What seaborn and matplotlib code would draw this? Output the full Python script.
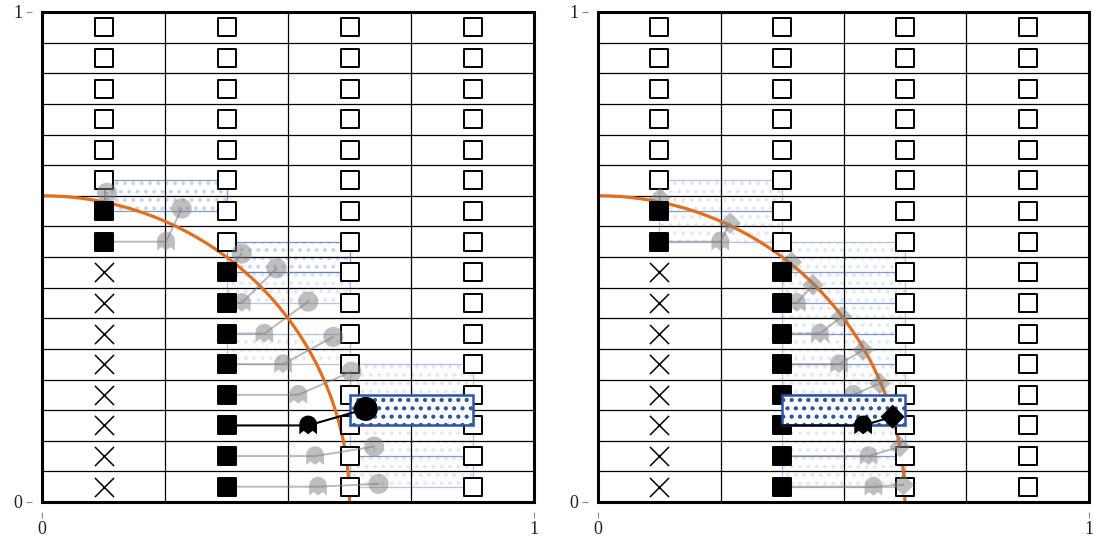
import numpy as np
import pandas as pd
import matplotlib
matplotlib.use('Agg')
import matplotlib.pyplot as plt
from matplotlib.path import Path
from matplotlib.patches import Rectangle
import seaborn as sns

n_rows = 16
col_x = [0.125, 0.375, 0.625, 0.875]
# column states from the bottom row up: x = crossed, f = filled, o = open
col_states = [
    'x' * 8 + 'f' * 2 + 'o' * 6,
    'f' * 8 + 'o' * 8,
    'o' * 16,
    'o' * 16,
]

moved_rows = [9, 8, 7, 6, 5, 4, 3, 2, 1, 0]
highlight_row = 2
radius = 0.625

left_ghost_x = [0.125, 0.252, 0.375, 0.406, 0.452, 0.490, 0.521, 0.541, 0.555, 0.561]
left_next_x = [0.132, 0.284, 0.406, 0.477, 0.541, 0.592, 0.629, 0.658, 0.675, 0.684]
left_next_y = [0.631, 0.599, 0.507, 0.477, 0.409, 0.337, 0.266, 0.190, 0.113, 0.037]

right_ghost_x = [0.125, 0.249, 0.375, 0.405, 0.452, 0.491, 0.520, 0.540, 0.551, 0.561]
right_next_x = [0.126, 0.269, 0.394, 0.438, 0.496, 0.540, 0.574, 0.600, 0.615, 0.622]
right_next_y = [0.620, 0.569, 0.490, 0.443, 0.378, 0.310, 0.242, 0.174, 0.113, 0.035]

sns.set_style('white')
plt.rcParams['font.family'] = ['Liberation Serif', 'DejaVu Serif']
plt.rcParams['hatch.linewidth'] = 1.8

# ghost shaped marker
theta = np.linspace(0, np.pi, 30)
dome = np.column_stack([0.9 * np.cos(theta), 0.1 + 0.9 * np.sin(theta)])
feet = np.array([[-0.9, -0.9], [-0.45, -0.55], [0.0, -0.9], [0.45, -0.55], [0.9, -0.9], [0.9, 0.1]])
ghost_verts = np.vstack([dome, feet, dome[:1]])
ghost = Path(ghost_verts, closed=True)

BLUE = '#2b55a3'
ORANGE = '#e36f1e'


def row_y(r):
    return (r + 0.5) / n_rows


def draw_panel(ax, ghost_x, next_x, next_y, next_marker, next_s, hi_s):
    ax.set_xlim(0, 1)
    ax.set_ylim(0, 1)

    for k in range(1, n_rows):
        ax.axhline(k / n_rows, color='black', lw=0.9, zorder=1)
    for k in range(1, 4):
        ax.axvline(k / 4, color='black', lw=0.9, zorder=1)

    # grid of squares / crosses
    recs = []
    for c, states in enumerate(col_states):
        for r, s in enumerate(states):
            recs.append({'x': col_x[c], 'y': row_y(r), 'state': s})
    grid = pd.DataFrame(recs)
    sns.scatterplot(data=grid[grid.state == 'o'], x='x', y='y', marker='s', s=150,
                    color='white', edgecolor='black', linewidth=1.4, ax=ax, zorder=4)
    sns.scatterplot(data=grid[grid.state == 'f'], x='x', y='y', marker='s', s=150,
                    color='black', edgecolor='black', linewidth=1.4, ax=ax, zorder=6)
    sns.scatterplot(data=grid[grid.state == 'x'], x='x', y='y', marker='x', s=190,
                    color='black', linewidth=1.1, ax=ax, zorder=4)

    # start column of each moved row = the filled square in that row
    start_x = [col_x[[st[r] for st in col_states].index('f')] for r in moved_rows]

    moves = pd.DataFrame({'row': moved_rows, 'start_x': start_x, 'ghost_x': ghost_x,
                          'next_x': next_x, 'next_y': next_y})
    moves['y'] = row_y(moves['row'])

    # cells containing the next points
    for _, m in moves.iterrows():
        i = int(np.floor((m.next_x - col_x[0]) / 0.25))
        j = int(np.floor((m.next_y - row_y(0)) * n_rows))
        x0, y0 = col_x[i], row_y(j)
        if m.row == highlight_row:
            ax.add_patch(Rectangle((x0, y0), 0.25, 1 / n_rows, facecolor='white',
                                   edgecolor=BLUE, hatch='..', lw=1.8, zorder=6.5))
        else:
            ax.add_patch(Rectangle((x0, y0), 0.25, 1 / n_rows, facecolor='none',
                                   edgecolor=BLUE, lw=0.9, alpha=0.35, zorder=2))
            ax.add_patch(Rectangle((x0, y0), 0.25, 1 / n_rows, facecolor='none',
                                   edgecolor=BLUE, hatch='..', lw=0, alpha=0.1, zorder=2))

    # orange circle
    t = np.linspace(0, np.pi / 2, 200)
    sns.lineplot(x=radius * np.cos(t), y=radius * np.sin(t), sort=False, estimator=None,
                 color=ORANGE, lw=2.3, ax=ax, zorder=3)

    paths = []
    for _, m in moves.iterrows():
        for k, (px, py) in enumerate([(m.start_x, m.y), (m.ghost_x, m.y), (m.next_x, m.next_y)]):
            paths.append({'row': m.row, 'k': k, 'x': px, 'y': py})
    paths = pd.DataFrame(paths)
    gray = paths[paths.row != highlight_row]
    hi = paths[paths.row == highlight_row]
    sns.lineplot(data=gray, x='x', y='y', units='row', estimator=None, sort=False,
                 color='gray', alpha=0.55, lw=1.4, ax=ax, zorder=5)
    sns.lineplot(data=hi, x='x', y='y', estimator=None, sort=False,
                 color='black', lw=1.5, ax=ax, zorder=7)

    g = moves[moves.row != highlight_row]
    h = moves[moves.row == highlight_row]
    sns.scatterplot(x=g.ghost_x, y=g.y, marker=ghost, s=200, color='gray', alpha=0.5,
                    edgecolor='none', ax=ax, zorder=5)
    sns.scatterplot(x=g.next_x, y=g.next_y, marker=next_marker, s=next_s, color='gray',
                    alpha=0.5, edgecolor='none', ax=ax, zorder=5)
    sns.scatterplot(x=h.ghost_x, y=h.y, marker=ghost, s=200, color='black',
                    edgecolor='none', ax=ax, zorder=8)
    sns.scatterplot(x=h.next_x, y=h.next_y, marker=next_marker, s=hi_s, color='black',
                    edgecolor='none', ax=ax, zorder=8)

    ax.set_xlabel('')
    ax.set_ylabel('')
    ax.set_xticks([0, 1])
    ax.set_yticks([0, 1])
    ax.set_xticklabels(['0', '1'])
    ax.set_yticklabels(['0', '1'])
    for side in ['left', 'bottom']:
        ax.spines[side].set_position(('outward', 7))
    for side in ax.spines:
        ax.spines[side].set_visible(False)
    ax.tick_params(direction='out', length=4, width=0.8, color='#888888',
                   labelsize=13, labelcolor='#222222', pad=3,
                   left=True, bottom=True)
    ax.add_patch(Rectangle((0, 0), 1, 1, transform=ax.transAxes, fill=False,
                           edgecolor='black', lw=2.2, clip_on=False, zorder=10))
    if ax.get_legend():
        ax.get_legend().remove()


fig = plt.figure(figsize=(10.94, 5.45), dpi=100)
ax1 = fig.add_axes([42 / 1094, 43 / 545, 492 / 1094, 490 / 545])
ax2 = fig.add_axes([598 / 1094, 43 / 545, 491 / 1094, 490 / 545])

draw_panel(ax1, left_ghost_x, left_next_x, left_next_y, 'o', 210, 300)
draw_panel(ax2, right_ghost_x, right_next_x, right_next_y, 'D', 120, 150)

fig.savefig('out.png', dpi=100)
